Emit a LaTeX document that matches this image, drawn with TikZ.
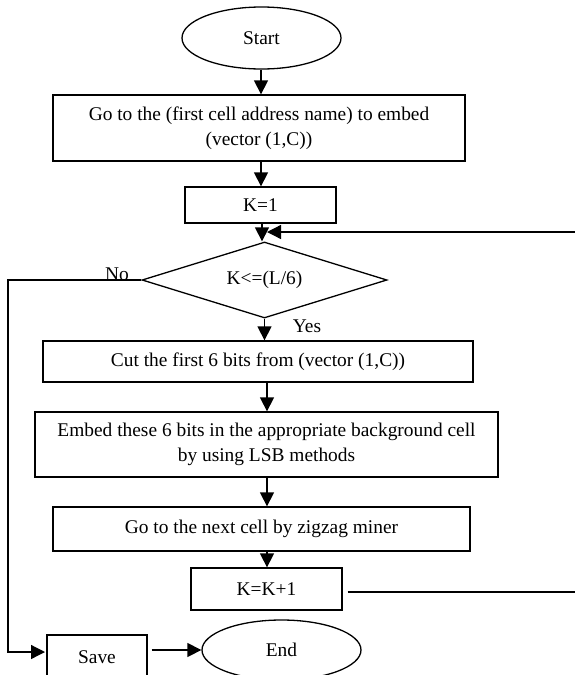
\documentclass[tikz,border=0pt]{standalone}
\usepackage{fontspec}
\setmainfont{Liberation Serif}
\usetikzlibrary{shapes.geometric,arrows.meta}
\begin{document}
\begin{tikzpicture}[x=1pt,y=-1pt,
  every node/.style={font=\fontsize{19.4}{25}\selectfont, inner sep=0pt, align=center},
  box/.style={draw, line width=1.3pt, rectangle},
  oval/.style={draw, line width=1.3pt, ellipse},
  dec/.style={draw, line width=1.3pt, diamond, shape aspect=3.22},
  conn/.style={line width=1.3pt},
  arr/.style={conn, -{Triangle[length=14pt,width=14pt]}},
  lbl/.style={font=\fontsize{19.4}{22}\selectfont}]
\useasboundingbox (0,0) rectangle (575,675);
\node[oval, minimum width=159pt, minimum height=62pt] (start) at (261.5,38) {Start};
\node[box, minimum width=412pt, minimum height=66pt] (b1) at (259,128) {Go to the (first cell address name) to embed\\(vector (1,C))};
\node[box, minimum width=151pt, minimum height=36pt] (k1) at (260.5,205) {K=1};
\node[dec, minimum width=245pt, minimum height=76pt] (dia) at (264.5,280) {K<=(L/6)};
\node[box, minimum width=430pt, minimum height=41pt] (b2) at (258,361.5) {Cut the first 6 bits from (vector (1,C))};
\node[box, minimum width=463pt, minimum height=65pt] (b3) at (266.5,444.5) {Embed these 6 bits in the appropriate background cell\\by using LSB methods};
\node[box, minimum width=417pt, minimum height=44pt] (b4) at (261.5,529) {Go to the next cell by zigzag miner};
\node[box, minimum width=151pt, minimum height=42pt] (b5) at (266.5,589) {K=K+1};
\node[box, minimum width=100pt, minimum height=45pt] (save) at (97,657.5) {Save};
\node[oval, minimum width=159pt, minimum height=60pt] (end) at (281.5,650) {End};
\node[lbl] (no) at (117,274) {No};
\node[lbl] (yes) at (307,326) {Yes};
\coordinate (c267) at (267,0);
\coordinate (c262) at (262,0);
\coordinate (c261) at (261,0);
\coordinate (loopR) at (577,592);
\coordinate (loopT) at (577,232);
\coordinate (join) at (267,232);
\coordinate (noL) at (8,280);
\coordinate (noB) at (8,652);
\coordinate (saveIn) at (45,652);
\draw[arr] (start.south -| c261) -- (b1.north -| c261);
\draw[arr] (b1.south -| c261) -- (k1.north -| c261);
\draw[arr] (k1.south -| c262) -- (dia.north -| c262);
\draw[arr] (dia.south) -- (dia.south |- b2.north);
\draw[arr] (b2.south -| c267) -- (b3.north -| c267);
\draw[arr] (b3.south -| c267) -- (b4.north -| c267);
\draw[arr] (b4.south -| c267) -- (b5.north -| c267);
\draw[arr] ([xshift=5pt]b5.east |- loopR) -- (loopR) -- (loopT) -- (join);
\draw[arr] (dia.west) -- (noL) -- (noB) -- (saveIn);
\draw[arr] ([xshift=4pt]save.east |- end.west) -- (end.west);
\end{tikzpicture}
\end{document}
